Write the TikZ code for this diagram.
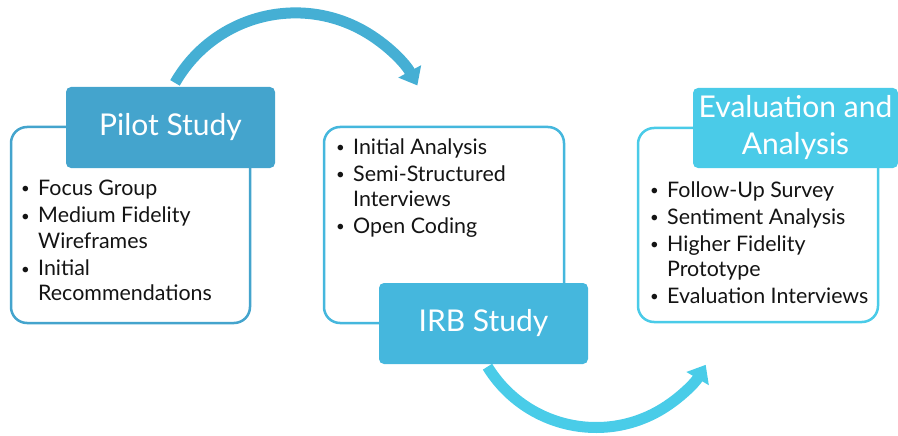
\documentclass[tikz,border=0pt]{standalone}
\usepackage{fontspec}
\setmainfont{Lato}
\usetikzlibrary{arrows.meta}
\definecolor{pilotc}{RGB}{68,164,205}
\definecolor{irbc}{RGB}{69,183,221}
\definecolor{evalc}{RGB}{74,203,232}
\definecolor{arrowa}{RGB}{69,175,212}
\definecolor{arrowb}{RGB}{73,204,232}
\definecolor{txt}{RGB}{20,20,20}
\tikzset{
  outline/.style={draw=#1, line width=2.5pt, fill=white, rounded corners=16pt, inner sep=0pt},
  titlebox/.style={fill=#1, rounded corners=5pt, inner sep=0pt, text=white, align=center,
    font=\fontsize{30}{37}\selectfont},
  listtext/.style={anchor=base west, inner sep=0pt, text=txt, font=\fontsize{21.4}{25}\selectfont},
  cyclearrow/.style={draw=#1, line width=11pt, -{Triangle[length=16pt,width=25pt]}}
}
\newcommand{\bitem}{\makebox[18pt][l]{\hspace{1pt}\raisebox{1.5pt}{\scalebox{0.7}{\textbullet}}}}
\begin{document}
\begin{tikzpicture}[x=1pt,y=-1pt]
\useasboundingbox (0,0) rectangle (898,436);
% arrows
\coordinate (a1s) at (175,82.9);
\coordinate (a2s) at (487.5,366.7);
\draw[cyclearrow=arrowa] (a1s) arc[start angle=-150.3, end angle=-28.5, radius=138.7];
\draw[cyclearrow=arrowb] (a2s) arc[start angle=148.5, end angle=30.5, radius=127.3];
% pilot
\node[outline=pilotc, minimum width=239pt, minimum height=196pt] (pilotout) at (130.5,225) {};
\node[titlebox=pilotc, minimum width=209pt, minimum height=81pt] (pilot) at (170.5,127.5) {Pilot Study};
\node[listtext] (pilotlist) at (20,195) {\begin{tabular}[t]{@{}l@{}}
\bitem Focus Group\\[3pt]
\bitem Medium Fidelity\\
\hspace{18pt}Wireframes\\[3pt]
\bitem Initial\\
\hspace{18pt}Recommendations
\end{tabular}};
% irb
\node[outline=irbc, minimum width=240pt, minimum height=196pt] (irbout) at (444,225) {};
\node[titlebox=irbc, minimum width=209pt, minimum height=81pt] (irb) at (483.5,323.5) {IRB Study};
\node[listtext] (irblist) at (335,154) {\begin{tabular}[t]{@{}l@{}}
\bitem Initial Analysis\\[2pt]
\bitem Semi-Structured\\
\hspace{18pt}Interviews\\[2pt]
\bitem Open Coding
\end{tabular}};
% eval
\node[outline=evalc, minimum width=240pt, minimum height=194pt] (evalout) at (758,225) {};
\node[titlebox=evalc, minimum width=205pt, minimum height=80pt] (eval) at (795.5,128) {Evaluation and\\Analysis};
\node[listtext] (evallist) at (649,197) {\begin{tabular}[t]{@{}l@{}}
\bitem Follow-Up Survey\\[2pt]
\bitem Sentiment Analysis\\[2pt]
\bitem Higher Fidelity\\
\hspace{18pt}Prototype\\[2pt]
\bitem Evaluation Interviews
\end{tabular}};
\end{tikzpicture}
\end{document}
